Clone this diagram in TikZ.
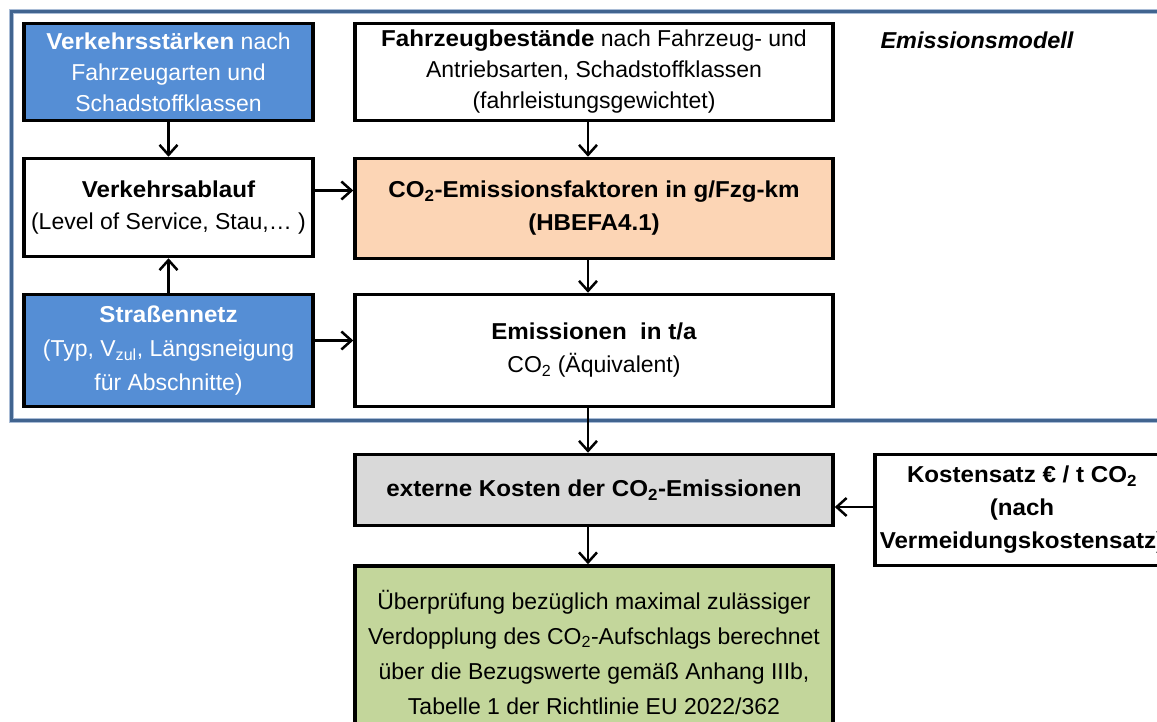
\documentclass[tikz,border=0pt]{standalone}
\usepackage{fontspec}
\setmainfont[BoldFeatures={FakeStretch=1.05},BoldItalicFeatures={FakeStretch=1.02}]{Liberation Sans}
\usetikzlibrary{arrows.meta}
\definecolor{frameblue}{HTML}{41648F}
\definecolor{frameshade}{HTML}{A9BCD6}
\definecolor{boxblue}{HTML}{558ED5}
\definecolor{boxpeach}{HTML}{FCD5B5}
\definecolor{boxgray}{HTML}{D9D9D9}
\definecolor{boxgreen}{HTML}{C3D69B}
\begin{document}
\begin{tikzpicture}[x=1pt,y=-1pt,
  box/.style={draw=black, line width=3.5pt, align=center, inner sep=0pt,
    font=\fontsize{23}{33}\selectfont},
  leftbox/.style={box, minimum width=289pt},
  rightbox/.style={box, minimum width=478pt},
  bluebox/.style={fill=boxblue, text=white},
  arr/.style={line width=2.5pt, -{Straight Barb[length=10pt,width=18pt]}}]
\useasboundingbox (0,0) rectangle (1157,722);
\clip (0,0) rectangle (1157,722);
\fill[white] (0,0) rectangle (1157,722);
% frame
\draw[frameshade, line width=5pt] (11,12) rectangle (1175,420);
\draw[frameblue, line width=3pt] (11,12) rectangle (1175,420);
\node[font=\fontsize{23}{27}\selectfont\bfseries\itshape] (title) at (977,40) {Emissionsmodell};
% left column
\node[leftbox, bluebox, minimum height=97pt, font=\fontsize{23}{31}\selectfont] (vs) at (168.5,72)
  {\textbf{Verkehrsstärken} nach\\Fahrzeugarten und\\Schadstoffklassen};
\node[leftbox, fill=white, minimum height=98pt, font=\fontsize{23}{32}\selectfont] (va) at (168.5,207.5)
  {\textbf{Verkehrsablauf}\\(Level of Service, Stau,… )};
\node[leftbox, bluebox, minimum height=112pt, font=\fontsize{23}{34}\selectfont] (sn) at (168.5,350.5)
  {\textbf{Straßennetz}\\(Typ, V\textsubscript{zul}, Längsneigung\\für Abschnitte)};
% right column
\node[rightbox, fill=white, minimum height=97pt, font=\fontsize{23}{31}\selectfont] (fb) at (594,72)
  {\textbf{Fahrzeugbestände} nach Fahrzeug- und\\Antriebsarten, Schadstoffklassen\\(fahrleistungsgewichtet)};
\node[rightbox, fill=boxpeach, minimum height=100pt, font=\fontsize{23}{33}\selectfont\bfseries] (ef) at (594,208.5)
  {CO\textsubscript{2}-Emissionsfaktoren in g/Fzg-km\\(HBEFA4.1)};
\node[rightbox, fill=white, minimum height=112pt, font=\fontsize{23}{33}\selectfont] (em) at (594,350.5)
  {\textbf{Emissionen\ \ in t/a}\\CO\textsubscript{2} (Äquivalent)};
\node[rightbox, fill=boxgray, minimum height=71pt, font=\fontsize{23}{33}\selectfont\bfseries] (ek) at (594,490)
  {externe Kosten der CO\textsubscript{2}-Emissionen};
\node[rightbox, fill=boxgreen, minimum height=172pt, font=\fontsize{23}{35}\selectfont] (ue) at (594,652)
  {Überprüfung bezüglich maximal zulässiger\\Verdopplung des CO\textsubscript{2}-Aufschlags berechnet\\über die Bezugswerte gemäß Anhang IIIb,\\Tabelle 1 der Richtlinie EU 2022/362};
\node[box, fill=white, minimum width=294.5pt, minimum height=111pt, font=\fontsize{23}{33}\selectfont\bfseries] (ks) at (1022,510)
  {Kostensatz € / t CO\textsubscript{2}\\(nach\\Vermeidungskostensatz)};
% connectors
\draw[arr] (vs.south) -- (va.north);
\draw[arr] (sn.north) -- (va.south);
\draw[arr] ([yshift=17pt]va.east) -- ([yshift=17pt]va.east -| ef.west);
\draw[arr] ([yshift=10pt]sn.east) -- ([yshift=10pt]sn.east -| em.west);
\draw[arr] ([xshift=-6pt]fb.south) -- ([xshift=-6pt]ef.north);
\draw[arr] ([xshift=-6pt]ef.south) -- ([xshift=-6pt]em.north);
\draw[arr] ([xshift=-6pt]em.south) -- ([xshift=-6pt]ek.north);
\draw[arr] ([xshift=-6pt]ek.south) -- ([xshift=-6pt]ue.north);
\draw[arr] ([yshift=3pt]ks.west) -- ([yshift=3pt]ks.west -| ek.east);
\end{tikzpicture}
\end{document}
